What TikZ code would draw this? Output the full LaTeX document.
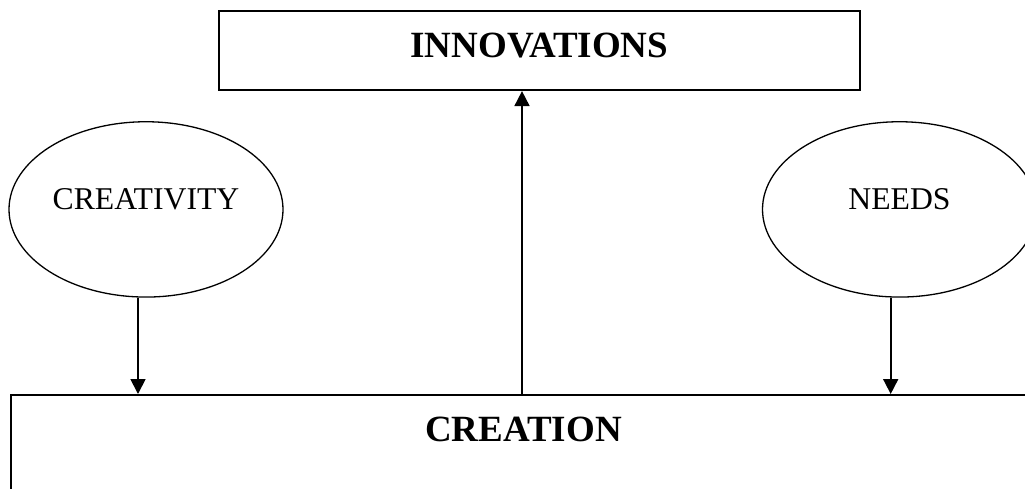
\documentclass[tikz,border=0pt]{standalone}
\usepackage{fontspec}
\setmainfont{Liberation Serif}
\usetikzlibrary{arrows.meta,shapes.geometric,calc}
\begin{document}
\begin{tikzpicture}[x=1pt,y=-1pt,
 box/.style={draw,line width=1.8pt,inner sep=0pt,rectangle},
 oval/.style={draw,ellipse,line width=1.3pt,inner sep=0pt,minimum width=274pt,minimum height=175.3pt,font=\fontsize{31.7}{34}\selectfont,text height=21pt,text depth=20pt},
 conn/.style={line width=1.8pt,-{Triangle[length=15pt,width=15pt]}},
 title/.style={font=\fontsize{37}{40}\selectfont\bfseries}]
\useasboundingbox (0,0) rectangle (1025,488);
\clip (0,0) rectangle (1025,488);
\node[box,title,anchor=north west,minimum width=640.4pt,minimum height=79.3pt,text height=24.5pt,text depth=10.5pt] (innov) at (218.3,10) {INNOVATIONS};
\node[oval] (creat) at (146,209.4) {CREATIVITY};
\node[oval] (needs) at (899.5,209.4) {NEEDS};
\node[box,anchor=north west,minimum width=1040pt,minimum height=150pt] (creation) at (10,394) {};
\node[title,anchor=base] (creationlbl) at (523.5,441.7) {CREATION};
\coordinate (c1) at ($(creat.south)+(-8,0)$);
\coordinate (c2) at ($(needs.south)+(-8.8,0)$);
\coordinate (c3) at ($(creation.north west)+(512,0)$);
\draw[conn] (c1) -- (c1 |- creation.north);
\draw[conn] (c2) -- (c2 |- creation.north);
\draw[conn] (c3) -- (c3 |- innov.south);
\end{tikzpicture}
\end{document}
